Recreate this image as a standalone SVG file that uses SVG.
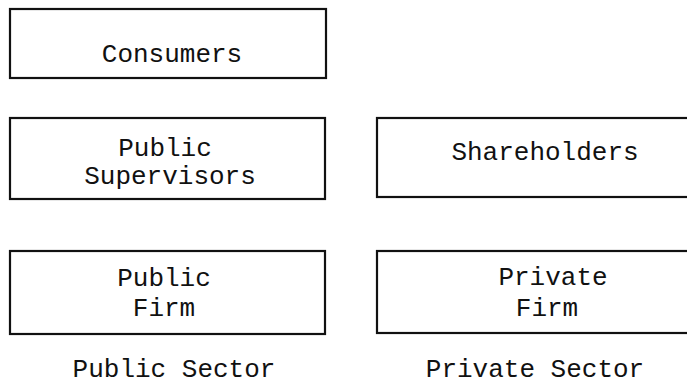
<svg xmlns="http://www.w3.org/2000/svg" width="687" height="387" viewBox="0 0 687 387">
  <style>
    .box { fill: none; stroke: #111; stroke-width: 2.2; }
    .lbl { font-family: "Liberation Mono", "DejaVu Sans Mono", monospace; font-size: 26px; fill: #111; text-anchor: middle; }
  </style>
  <rect width="687" height="387" fill="#fff"/>

  <g id="consumers">
    <rect class="box" x="10" y="9" width="316" height="69"/>
    <text class="lbl" x="172" y="62">Consumers</text>
  </g>

  <g id="public-supervisors">
    <rect class="box" x="10" y="118" width="315" height="81"/>
    <text class="lbl" x="165" y="156">Public</text>
    <text class="lbl" x="170" y="184">Supervisors</text>
  </g>

  <g id="shareholders">
    <rect class="box" x="377" y="118" width="320" height="79"/>
    <text class="lbl" x="545" y="160">Shareholders</text>
  </g>

  <g id="public-firm">
    <rect class="box" x="10" y="251" width="315" height="83"/>
    <text class="lbl" x="164" y="286">Public</text>
    <text class="lbl" x="164" y="316">Firm</text>
  </g>

  <g id="private-firm">
    <rect class="box" x="377" y="251" width="320" height="82"/>
    <text class="lbl" x="553" y="285">Private</text>
    <text class="lbl" x="547" y="316">Firm</text>
  </g>

  <g id="sector-labels">
    <text class="lbl" x="174" y="377">Public Sector</text>
    <text class="lbl" x="535" y="377">Private Sector</text>
  </g>

  <g id="connectors"></g>
</svg>
